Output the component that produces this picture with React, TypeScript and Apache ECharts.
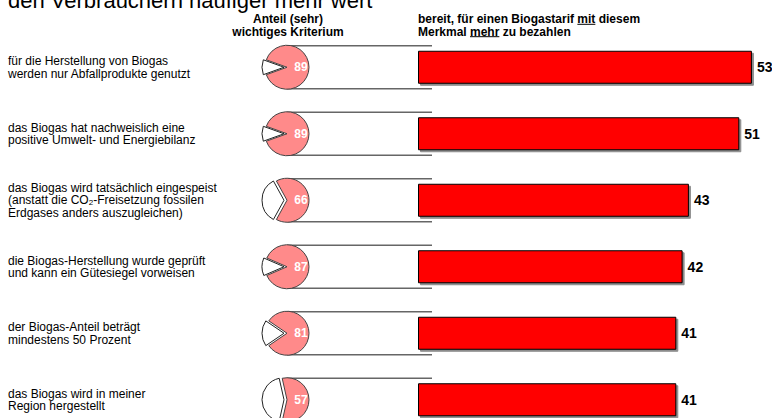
import React, { useEffect, useRef } from "react";
import * as echarts from "echarts";

const FONT = "'Liberation Sans', Arial, Helvetica, sans-serif";

const title = "den Verbrauchern häufiger mehr wert";

const categories = [
  "für die Herstellung von Biogas\nwerden nur Abfallprodukte genutzt",
  "das Biogas hat nachweislich eine\npositive Umwelt- und Energiebilanz",
  "das Biogas wird tatsächlich eingespeist\n(anstatt die CO{sub|2}-Freisetzung fossilen\nErdgases anders auszugleichen)",
  "die Biogas-Herstellung wurde geprüft\nund kann ein Gütesiegel vorweisen",
  "der Biogas-Anteil beträgt\nmindestens 50 Prozent",
  "das Biogas wird in meiner\nRegion hergestellt",
];

// share of respondents rating the feature as (very) important, in %
const importanceShare = [89, 89, 66, 87, 81, 57];
// share willing to pay more for a tariff with the feature, in %
const payMoreShare = [53, 51, 43, 42, 41, 41];

const leftHeader = "Anteil (sehr)\nwichtiges Kriterium";
const rightHeaderLine1 = ["bereit, für einen Biogastarif ", "mit", " diesem"];
const rightHeaderLine2 = ["Merkmal ", "mehr", " zu bezahlen"];

const GRID_LEFT = 418;
const PX_PER_UNIT = 6.3;
const X_MAX = 55;
const PIE_X = 287;
const PIE_R = 22;
const CONNECTOR_END = 432;
const HEADER_LINE_H = 12.4;
const HEADER_Y = 25.5;

export default function App() {
  const ref = useRef<HTMLDivElement>(null);

  useEffect(() => {
    const el = ref.current!;
    const chart = echarts.init(el, null, { renderer: "svg" });

    const barSeries = {
      type: "bar",
      data: payMoreShare,
      barWidth: 33,
      silent: true,
      z: 3,
      itemStyle: {
        color: "#ff0000",
        borderColor: "#000",
        borderWidth: 1,
        shadowColor: "rgba(0,0,0,0.45)",
        shadowBlur: 1,
        shadowOffsetX: 2,
        shadowOffsetY: 2,
      },
      label: {
        show: true,
        position: "right",
        distance: 5,
        color: "#000",
        fontFamily: FONT,
        fontWeight: "bold",
        fontSize: 14,
      },
    };

    chart.setOption({
      animation: false,
      grid: {
        left: GRID_LEFT,
        top: 34,
        width: PX_PER_UNIT * X_MAX,
        height: 399,
        outerBoundsMode: "none",
        containLabel: false,
      },
      xAxis: { type: "value", min: 0, max: X_MAX, show: false },
      yAxis: {
        type: "category",
        inverse: true,
        data: categories,
        axisLine: { show: false },
        axisTick: { show: false },
        splitLine: { show: false },
        axisLabel: {
          interval: 0,
          align: "left",
          margin: GRID_LEFT - 8,
          color: "#000",
          fontFamily: FONT,
          fontSize: 12,
          lineHeight: 12.5,
          rich: {
            sub: { fontSize: 8, lineHeight: 8, verticalAlign: "bottom", fontFamily: FONT, color: "#000" },
          },
        },
      },
      series: [barSeries],
    });

    const rowsY = categories.map((_, i) => chart.convertToPixel({ yAxisIndex: 0 }, i) as number);

    const pies = importanceShare.map((v, i) => ({
      type: "pie",
      center: [PIE_X, rowsY[i]],
      radius: PIE_R,
      startAngle: 180 + (100 - v) * 1.8,
      clockwise: true,
      selectedMode: "single",
      selectedOffset: 3,
      silent: true,
      z: 5,
      labelLine: { show: false },
      emphasis: { disabled: true },
      data: [
        {
          value: 100 - v,
          name: "sonstige",
          selected: true,
          itemStyle: { color: "#ffffff", borderColor: "#222", borderWidth: 1 },
          label: { show: false },
        },
        {
          value: v,
          name: "wichtig",
          itemStyle: { color: "#ff8a8a", borderColor: "#444", borderWidth: 1 },
          label: {
            show: true,
            position: "inside",
            formatter: "{c}",
            color: "#fff",
            fontFamily: FONT,
            fontWeight: "bold",
            fontSize: 12,
          },
        },
      ],
    }));

    const ctx = document.createElement("canvas").getContext("2d")!;
    const headerFont = `bold 12px ${FONT}`;
    const measure = (s: string) => {
      ctx.font = headerFont;
      return ctx.measureText(s).width;
    };

    const headerText = (text: string, x: number, align: string) => ({
      type: "text",
      x,
      y: HEADER_Y,
      z: 10,
      style: {
        text,
        fill: "#000",
        fontFamily: FONT,
        fontWeight: "bold",
        fontSize: 12,
        lineHeight: HEADER_LINE_H,
        align,
        verticalAlign: "middle",
      },
    });

    // underline one word of a header line: parts = [before, word, after]
    const underline = (parts: string[], x: number, lineCenter: number) => {
      const x0 = x + measure(parts[0]);
      const x1 = x0 + measure(parts[1]);
      return {
        type: "line",
        z: 10,
        shape: { x1: x0, y1: lineCenter + 5, x2: x1, y2: lineCenter + 5 },
        style: { stroke: "#000", lineWidth: 1 },
      };
    };

    // bracket lines running from the top and bottom of each pie towards its bar
    const connectors: any[] = [];
    rowsY.forEach((y) => {
      [y - PIE_R + 0.5, y + PIE_R - 0.5].forEach((ly) => {
        connectors.push({
          type: "line",
          z: 1,
          shape: { x1: PIE_X, y1: ly, x2: CONNECTOR_END, y2: ly },
          style: { stroke: "#666", lineWidth: 1.5 },
        });
      });
    });

    const line1Y = HEADER_Y - HEADER_LINE_H / 2;
    const line2Y = HEADER_Y + HEADER_LINE_H / 2;

    chart.setOption({
      series: [barSeries, ...pies],
      graphic: [
        {
          type: "text",
          x: 8,
          y: 0,
          style: {
            text: title,
            fill: "#000",
            fontFamily: FONT,
            fontSize: 22,
            align: "left",
            verticalAlign: "middle",
          },
        },
        headerText(leftHeader, 288, "center"),
        headerText(rightHeaderLine1.join("") + "\n" + rightHeaderLine2.join(""), GRID_LEFT, "left"),
        underline(rightHeaderLine1, GRID_LEFT, line1Y),
        underline(rightHeaderLine2, GRID_LEFT, line2Y),
        ...connectors,
      ],
    });

    return () => chart.dispose();
  }, []);

  return (
    <div
      ref={ref}
      style={{ position: "fixed", left: 0, top: 0, width: 772, height: 418, background: "#fff" }}
    />
  );
}
